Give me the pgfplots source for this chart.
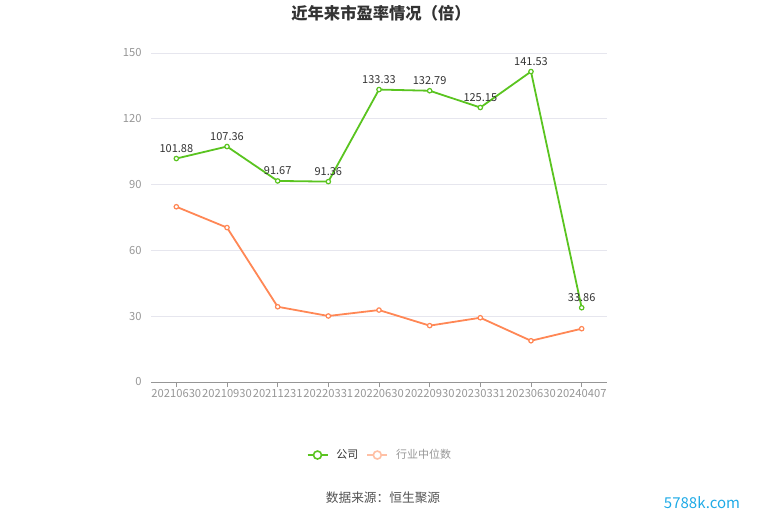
\documentclass[border=0pt]{standalone}
\usepackage{fontspec}
\setmainfont{Noto Sans CJK SC}
\usepackage{pgfplots}
\pgfplotsset{compat=1.18}
\definecolor{cgreen}{RGB}{90,196,32}
\definecolor{corange}{RGB}{255,135,85}
\definecolor{corangefade}{RGB}{255,192,165}
\definecolor{gridc}{RGB}{230,230,238}
\definecolor{tickc}{RGB}{150,150,150}
\definecolor{titlec}{RGB}{51,51,51}
\definecolor{wmc}{RGB}{30,170,230}
\begin{document}
\begin{tikzpicture}[x=1pt,y=1pt]
\useasboundingbox (0,0) rectangle (765,517);
\begin{axis}[
  at={(151pt,135pt)}, anchor=south west,
  scale only axis, width=456pt, height=329pt,
  xmin=-0.5, xmax=8.5, ymin=0, ymax=150,
  ytick={0,30,60,90,120,150},
  xtick={0,...,8},
  xticklabels={20210630,20210930,20211231,20220331,20220630,20220930,20230331,20230630,20240407},
  axis y line*=left, axis x line*=bottom,
  y axis line style={draw=none},
  x axis line style={draw=tickc, line width=0.8pt},
  ymajorgrids, grid style={gridc, line width=0.6pt},
  major y tick style={draw=none},
  major x tick style={draw=tickc, line width=0.8pt},
  tick align=outside, major tick length=5pt,
  ticklabel style={font=\fontsize{11.2}{12}\selectfont, text=tickc},
  xticklabel style={inner xsep=0pt, yshift=1pt},
  yticklabel style={xshift=-1pt},
  /pgf/number format/assume math mode=true,
  clip=false,
  legend columns=2,
  legend style={at={(0.502,-0.222)}, anchor=center, draw=none, fill=none,
    font=\fontsize{11}{12}\selectfont, column sep=6pt},
  legend cell align=left,
  legend image code/.code={\draw[#1, mark repeat=2, mark phase=2] plot coordinates {(0pt,0pt) (10pt,0pt) (20pt,0pt)};},
]
\addplot[forget plot, color=cgreen, line width=1.8pt, mark=*, mark size=2.2pt,
  mark options={fill=white, line width=1.2pt},
  nodes near coords, point meta=explicit symbolic,
  every node near coord/.style={font=\fontsize{11}{12}\selectfont, text=titlec, anchor=south, yshift=2pt}]
coordinates {
(0,101.88) [101.88]
(1,107.36) [107.36]
(2,91.67) [91.67]
(3,91.36) [91.36]
(4,133.33) [133.33]
(5,132.79) [132.79]
(6,125.15) [125.15]
(7,141.53) [141.53]
(8,33.86) [33.86]
};
\addplot[forget plot, color=corange, line width=1.8pt, mark=*, mark size=2.2pt,
  mark options={fill=white, line width=1.2pt}]
coordinates {
(0,79.9) (1,70.4) (2,34.3) (3,30.1) (4,32.8) (5,25.7) (6,29.3) (7,18.8) (8,24.3)
};
\addlegendimage{color=cgreen, line width=1.8pt, mark=*, mark size=4pt, mark options={fill=white, line width=1.6pt}}
\addlegendentry[text=titlec]{公司}
\addlegendimage{color=corangefade, line width=1.8pt, mark=*, mark size=4pt, mark options={fill=white, line width=1.6pt}}
\addlegendentry[text=tickc]{行业中位数}
\end{axis}
\node[font=\bfseries\fontsize{16.3}{18}\selectfont, text=titlec] at (381,504) {近年来市盈率情况（倍）};
\node[font=\fontsize{12.7}{14}\selectfont, text=titlec!85] at (383,19) {数据来源：恒生聚源};
\node[font=\fontsize{15}{16}\selectfont, text=wmc] at (702,14) {5788k.com};
\end{tikzpicture}
\end{document}
